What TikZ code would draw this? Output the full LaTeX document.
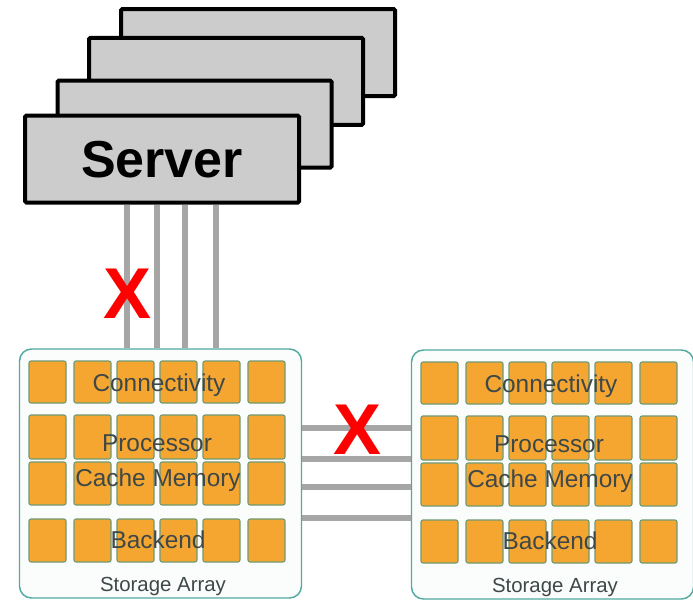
\documentclass[tikz,border=0pt]{standalone}
\usepackage{fontspec}
\setmainfont{Liberation Sans}
\definecolor{srvfill}{HTML}{CCCCCC}
\definecolor{wire}{HTML}{A6A6A6}
\definecolor{orangecell}{HTML}{F5A631}
\definecolor{cellborder}{HTML}{6E9A74}
\definecolor{teal}{HTML}{52A9A2}
\definecolor{arrfill}{HTML}{FBFDFC}
\definecolor{lbl}{HTML}{3E4848}
\begin{document}
\begin{tikzpicture}[x=0.75pt,y=-0.75pt,
  srvbox/.style={draw=black,fill=srvfill,line width=3pt,rounded corners=1pt,inner sep=0pt,minimum width=274*0.75pt,minimum height=87*0.75pt},
  wireline/.style={draw=wire,line width=3.8pt},
  arrbox/.style={draw=teal,fill=arrfill,line width=1.1pt,rounded corners=9pt,inner sep=0pt},
  cell/.style={draw=cellborder,fill=orangecell,line width=0.8pt,rounded corners=1.5pt,inner sep=0pt},
  lbltext/.style={text=lbl,font=\fontsize{18.3}{18}\selectfont,inner sep=0pt,anchor=base},
  captext/.style={text=lbl,font=\fontsize{15.3}{15}\selectfont,inner sep=0pt,anchor=base},
  redx/.style={text=red,font=\fontsize{54}{54}\selectfont\bfseries,inner sep=0pt}]
\useasboundingbox (0,0) rectangle (693,600);
% servers
\node[srvbox] (s4) at (258,52.5) {};
\node[srvbox] (s3) at (226,81.3) {};
\node[srvbox] (s2) at (194.5,124) {};
\node[srvbox] (s1) at (162,159) {};
\node[font=\fontsize{39}{39}\selectfont\bfseries,inner sep=0pt] (srvlbl) at (162,160) {Server};
% storage arrays
\foreach \p/\ox/\oy in {L/0/0,R/392/1}{
  \begin{scope}[shift={(\ox,\oy)}]
  \node[arrbox,minimum width=282*0.75pt,minimum height=249*0.75pt] (arr\p) at (160.5,473.5) {};
  \foreach \c/\xa/\xb in {1/29/66,2/74/111,3/117/154,4/160/197,5/203/240,6/248/285}{
    \foreach \r/\ya/\yb in {1/361/403,2/415/459,3/462/505,4/519/562}{
      \node[cell,minimum width={(\xb-\xa)*0.75pt},minimum height={(\yb-\ya)*0.75pt}] (\p-\r-\c) at ({(\xa+\xb)/2},{(\ya+\yb)/2}) {};
    }
  }
  \node[lbltext] (\p-con) at (159,391.5) {Connectivity};
  \node[lbltext] (\p-pro) at (157,451) {Processor};
  \node[lbltext] (\p-cac) at (158,486.5) {Cache Memory};
  \node[lbltext] (\p-bak) at (158,548) {Backend};
  \node[captext] (\p-cap) at (163,591.5) {Storage Array};
  \end{scope}
}
% server to array wires
\foreach \x/\n in {127/a,157/b,185/c,216/d}{
  \coordinate (vt\n) at (\x,0);
  \draw[wireline] (s1.south -| vt\n) -- (arrL.north -| vt\n);
}
% array to array wires
\foreach \y/\n in {428/a,459/b,487/c,518/d}{
  \coordinate (ht\n) at (0,\y);
  \draw[wireline] (arrL.east |- ht\n) -- (arrR.west |- ht\n);
}
% red crosses
\node[redx] (x1) at (128,294) {X};
\node[redx] (x2) at (357.5,429.5) {X};
\end{tikzpicture}
\end{document}
